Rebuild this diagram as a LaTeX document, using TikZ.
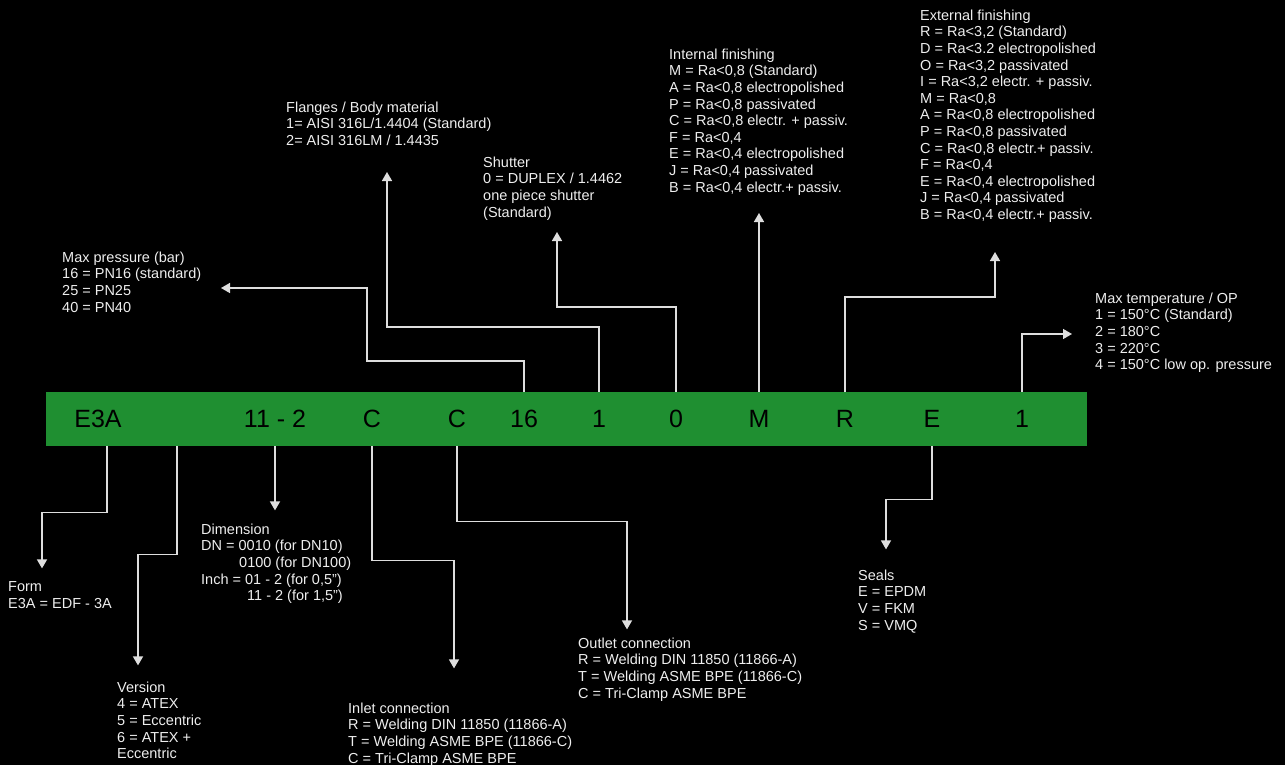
\documentclass[tikz,border=0pt]{standalone}
\usepackage{fontspec}
\setmainfont{Liberation Sans}
\usetikzlibrary{arrows.meta}
\usetikzlibrary{positioning}
\definecolor{codegreen}{RGB}{31,143,49}
\definecolor{linegrey}{RGB}{222,222,222}
\definecolor{textgrey}{RGB}{238,238,238}
\tikzset{conn/.style = {draw = linegrey, line width = 1.5, -{Triangle[width = 10pt, length = 9pt]}}}
\tikzset{code/.style = {font = \fontsize{25}{25}\selectfont, text = black, inner sep = 0}}
\tikzset{info/.style = {anchor = north west, align = left, inner sep = 0, text = textgrey, font = \fontsize{14.5}{16.6}\selectfont}}

\begin{document}
\begin{tikzpicture}[x = 1pt, y = -1pt]
      \useasboundingbox (0, 0) rectangle (1285, 765);
      \fill [black] (0, 0) rectangle (1285, 765);
      % code bar
      \node [fill = codegreen, minimum width = 1041, minimum height = 54, inner sep = 0, anchor = north west] (bar) at (46, 392) {};
      \node [code] (cE3A) at (98, 419) {E3A};
      \node [code] (cDim) at (275, 419) {11 - 2};
      \node [code] (cIn) at (372, 419) {C};
      \node [code] (cOut) at (457, 419) {C};
      \node [code] (cPres) at (524, 419) {16};
      \node [code] (cBody) at (599, 419) {1};
      \node [code] (cShut) at (676, 419) {0};
      \node [code] (cInt) at (759, 419) {M};
      \node [code] (cExt) at (845, 419) {R};
      \node [code] (cSeal) at (932, 419) {E};
      \node [code] (cTemp) at (1022, 419) {1};
      % options above the bar
      \node [info] (pres) at (62, 251.5) {Max pressure (bar)\\16 = PN16 (standard)\\25 = PN25\\40 = PN40};
      \node [info] (body) at (286, 101.5) {Flanges / Body material\\1= AISI 316L/1.4404 (Standard)\\2= AISI 316LM / 1.4435};
      \node [info] (shut) at (483, 156.5) {Shutter\\0 = DUPLEX / 1.4462\\one piece shutter\\(Standard)};
      \node [info] (int) at (669, 48.5) {Internal finishing\\M = Ra<0,8 (Standard)\\A = Ra<0,8 electropolished\\P = Ra<0,8 passivated\\C = Ra<0,8 electr. + passiv.\\F = Ra<0,4\\E = Ra<0,4 electropolished\\J = Ra<0,4 passivated\\B = Ra<0,4 electr.+ passiv.};
      \node [info] (ext) at (920, 9.5) {External finishing\\R = Ra<3,2 (Standard)\\D = Ra<3.2 electropolished\\O = Ra<3,2 passivated\\I = Ra<3,2 electr. + passiv.\\M = Ra<0,8\\A = Ra<0,8 electropolished\\P = Ra<0,8 passivated\\C = Ra<0,8 electr.+ passiv.\\F = Ra<0,4\\E = Ra<0,4 electropolished\\J = Ra<0,4 passivated\\B = Ra<0,4 electr.+ passiv.};
      \node [info] (temp) at (1095, 292.5) {Max temperature / OP\\1 = 150°C (Standard)\\2 = 180°C\\3 = 220°C\\4 = 150°C low op. pressure};
      % options below the bar
      \node [info] (form) at (8, 581.5) {Form\\E3A = EDF - 3A};
      \node [info] (vers) at (117, 681.5) {Version\\4 = ATEX\\5 = Eccentric\\6 = ATEX +\\Eccentric};
      \node [info] (dim) at (201, 523.5) {Dimension\\DN = 0010 (for DN10)\\\hspace*{38pt}0100 (for DN100)\\Inch = 01 - 2 (for 0,5")\\\hspace*{46pt}11 - 2 (for 1,5")};
      \node [info] (inl) at (348, 702.5) {Inlet connection\\R = Welding DIN 11850 (11866-A)\\T = Welding ASME BPE (11866-C)\\C = Tri-Clamp ASME BPE};
      \node [info] (outl) at (578, 637.5) {Outlet connection\\R = Welding DIN 11850 (11866-A)\\T = Welding ASME BPE (11866-C)\\C = Tri-Clamp ASME BPE};
      \node [info] (seal) at (858, 569.5) {Seals\\E = EPDM\\V = FKM\\S = VMQ};
      % connectors up
      \draw [conn] (bar.north -| cPres) |- ++(-157, -31) |- ++(-146, -73);
      \draw [conn] (bar.north -| cBody) |- ++(-212, -65) -- ++(0, -155);
      \draw [conn] (bar.north -| cShut) |- ++(-119, -85) -- ++(0, -75);
      \draw [conn] (bar.north -| cInt) -- ++(0, -179);
      \draw [conn] (bar.north -| cExt) |- ++(150, -95) -- ++(0, -45);
      \draw [conn] (bar.north -| cTemp) |- ++(50, -58);
      % connectors down
      \draw [conn] ([xshift = 61]bar.south west) |- ++(-65, 66) -- ++(0, 56);
      \draw [conn] ([xshift = 131]bar.south west) |- ++(-39, 108) -- ++(0, 111);
      \draw [conn] (bar.south -| cDim) -- ++(0, 64);
      \draw [conn] (bar.south -| cIn) |- ++(82, 114) -- ++(0, 108);
      \draw [conn] (bar.south -| cOut) |- ++(170, 75) -- ++(0, 108);
      \draw [conn] (bar.south -| cSeal) |- ++(-46, 53) -- ++(0, 50);
    \end{tikzpicture}
\end{document}
